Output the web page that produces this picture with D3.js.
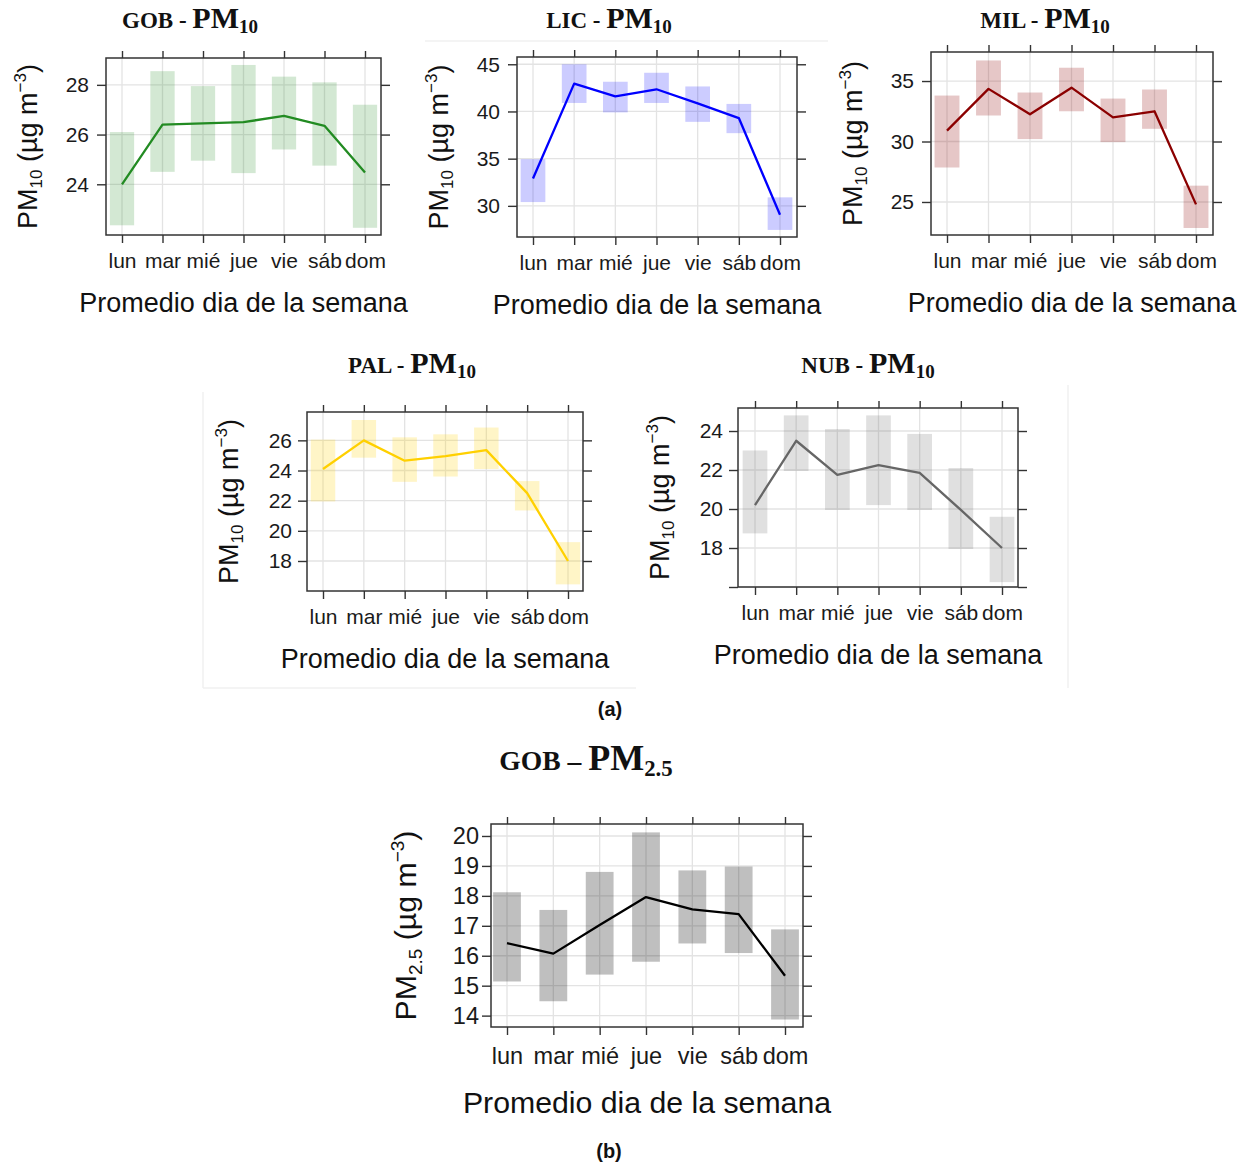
<!DOCTYPE html>
<html>
<head>
<meta charset="utf-8">
<script src="https://cdn.jsdelivr.net/npm/d3@7"></script>
<style>
  body { margin: 0; background: #fff; }
  text { font-family: "Liberation Sans", Arial, sans-serif; }
  text.ptitle { font-family: "Liberation Serif", "Times New Roman", serif; font-weight: bold; }
</style>
</head>
<body>
<svg id="chart" width="1251" height="1167"></svg>
<script>
var days = ["lun", "mar", "mié", "jue", "vie", "sáb", "dom"];

// GOB - PM10
var gobPm10Mean = [24.0, 26.4, 26.45, 26.5, 26.75, 26.35, 24.47];
var gobPm10Lower = [22.35, 24.5, 24.95, 24.45, 25.4, 24.75, 22.25];
var gobPm10Upper = [26.1, 28.55, 27.95, 28.8, 28.33, 28.1, 27.2];
var gobPm10Ticks = [24, 26, 28];

// LIC - PM10
var licPm10Mean = [32.9, 42.95, 41.6, 42.35, 40.85, 39.3, 29.05];
var licPm10Lower = [30.4, 40.9, 39.9, 40.9, 38.9, 37.7, 27.45];
var licPm10Upper = [34.95, 45.0, 43.15, 44.1, 42.65, 40.8, 30.9];
var licPm10Ticks = [30, 35, 40, 45];

// MIL - PM10
var milPm10Mean = [30.9, 34.35, 32.25, 34.45, 32.0, 32.5, 24.8];
var milPm10Lower = [27.85, 32.15, 30.2, 32.5, 29.95, 31.05, 22.85];
var milPm10Upper = [33.8, 36.7, 34.05, 36.1, 33.55, 34.3, 26.35];
var milPm10Ticks = [25, 30, 35];

// PAL - PM10
var palPm10Mean = [24.1, 26.0, 24.65, 24.95, 25.35, 22.5, 18.0];
var palPm10Lower = [21.95, 24.85, 23.25, 23.6, 24.1, 21.35, 16.45];
var palPm10Upper = [26.05, 27.35, 26.2, 26.4, 26.85, 23.3, 19.25];
var palPm10Ticks = [18, 20, 22, 24, 26];

// NUB - PM10
var nubPm10Mean = [20.2, 23.5, 21.75, 22.25, 21.85, 19.95, 18.0];
var nubPm10Lower = [18.75, 21.95, 19.95, 20.2, 19.95, 17.95, 16.25];
var nubPm10Upper = [23.0, 24.8, 24.1, 24.8, 23.85, 22.1, 19.6];
var nubPm10Ticks = [16, 18, 20, 22, 24];
var nubPm10TickLabels = [18, 20, 22, 24];

// GOB - PM2.5
var gobPm25Mean = [16.42, 16.07, 17.03, 17.96, 17.55, 17.39, 15.33];
var gobPm25Lower = [15.14, 14.48, 15.37, 15.8, 16.41, 16.09, 13.87];
var gobPm25Upper = [18.12, 17.53, 18.8, 20.12, 18.85, 18.98, 16.88];
var gobPm25Ticks = [14, 15, 16, 17, 18, 19, 20];

var svg = d3.select("#chart");

// faint edges of the pasted sub-figures
var edges = [[425, 41, 828, 41], [203, 392, 203, 688], [203, 688, 636, 688], [1068, 385, 1068, 688]];
svg.selectAll("line.edge").data(edges).enter().append("line")
  .attr("x1", function(d) { return d[0]; }).attr("y1", function(d) { return d[1]; })
  .attr("x2", function(d) { return d[2]; }).attr("y2", function(d) { return d[3]; })
  .attr("stroke", "#f0f0f0").attr("stroke-width", 1.5);

var panels = [
  { site: "GOB - ", sub: "10", mean: gobPm10Mean, lo: gobPm10Lower, hi: gobPm10Upper,
    ticks: gobPm10Ticks, labels: gobPm10Ticks, line: "#228B22", fill: "rgba(34,139,34,0.2)",
    box: [106, 58, 381, 235], xr: [122, 365], dom: [21.96, 29.08],
    tx: 190, ty: 28, s: 1, ts: 1, ytOff: 69, ylPad: 8 },
  { site: "LIC - ", sub: "10", mean: licPm10Mean, lo: licPm10Lower, hi: licPm10Upper,
    ticks: licPm10Ticks, labels: licPm10Ticks, line: "#0000FF", fill: "rgba(0,0,255,0.2)",
    box: [517, 57, 797, 237], xr: [533, 780], dom: [26.7, 45.77],
    tx: 609, ty: 28, s: 1, ts: 1, ytOff: 69, ylPad: 8 },
  { site: "MIL - ", sub: "10", mean: milPm10Mean, lo: milPm10Lower, hi: milPm10Upper,
    ticks: milPm10Ticks, labels: milPm10Ticks, line: "#8B0000", fill: "rgba(139,0,0,0.22)",
    box: [931, 52, 1213, 235], xr: [947, 1196], dom: [22.27, 37.4],
    tx: 1045, ty: 28, s: 1, ts: 1, ytOff: 69, ylPad: 8 },
  { site: "PAL - ", sub: "10", mean: palPm10Mean, lo: palPm10Lower, hi: palPm10Upper,
    ticks: palPm10Ticks, labels: palPm10Ticks, line: "#FFD000", fill: "rgba(255,210,0,0.22)",
    box: [307, 412, 583, 591], xr: [323, 568], dom: [16.01, 27.88],
    tx: 412, ty: 373, s: 1, ts: 1, ytOff: 69, ylPad: 6 },
  { site: "NUB - ", sub: "10", mean: nubPm10Mean, lo: nubPm10Lower, hi: nubPm10Upper,
    ticks: nubPm10Ticks, labels: nubPm10TickLabels, line: "#666666", fill: "rgba(102,102,102,0.2)",
    box: [738, 408, 1018, 587], xr: [755, 1002], dom: [16, 25.18],
    tx: 868, ty: 373, s: 1, ts: 1, ytOff: 69, ylPad: 6 },
  { site: "GOB – ", sub: "2.5", mean: gobPm25Mean, lo: gobPm25Lower, hi: gobPm25Upper,
    ticks: gobPm25Ticks, labels: gobPm25Ticks, line: "#000000", fill: "rgba(0,0,0,0.25)",
    box: [491, 824, 803, 1027], xr: [507, 785], dom: [13.62, 20.4],
    tx: 586, ty: 770, s: 1.12, ts: 1.2, ytOff: 75, ylPad: 3 }
];

function drawPanel(p) {
  var g = svg.append("g");
  var b = p.box;
  var x = d3.scalePoint().domain(days).range(p.xr);
  var y = d3.scaleLinear().domain(p.dom).range([b[3], b[1]]);
  var bw = x.step() * 0.6;
  var fs = 21 * p.s;

  // grid
  g.selectAll("line.vg").data(days).enter().append("line")
    .attr("x1", function(d) { return x(d); }).attr("x2", function(d) { return x(d); })
    .attr("y1", b[1]).attr("y2", b[3])
    .attr("stroke", "#e3e3e3").attr("stroke-width", 1.3);
  g.selectAll("line.hg").data(p.ticks).enter().append("line")
    .attr("x1", b[0]).attr("x2", b[2])
    .attr("y1", function(d) { return y(d); }).attr("y2", function(d) { return y(d); })
    .attr("stroke", "#e3e3e3").attr("stroke-width", 1.3);

  // interval bars
  g.selectAll("rect.ci").data(days).enter().append("rect")
    .attr("x", function(d) { return x(d) - bw / 2; })
    .attr("width", bw)
    .attr("y", function(d, i) { return y(p.hi[i]); })
    .attr("height", function(d, i) { return y(p.lo[i]) - y(p.hi[i]); })
    .attr("fill", p.fill);

  // mean line
  var line = d3.line()
    .x(function(d, i) { return x(days[i]); })
    .y(function(d) { return y(d); });
  g.append("path").datum(p.mean)
    .attr("d", line)
    .attr("fill", "none")
    .attr("stroke", p.line)
    .attr("stroke-width", 2.3)
    .attr("stroke-linejoin", "round");

  // frame
  g.append("rect")
    .attr("x", b[0]).attr("y", b[1])
    .attr("width", b[2] - b[0]).attr("height", b[3] - b[1])
    .attr("fill", "none").attr("stroke", "#333").attr("stroke-width", 1.5);

  function clean(ax) {
    ax.select(".domain").remove();
    ax.selectAll(".tick line").attr("stroke", "#333").attr("stroke-width", 1.4);
  }

  var bottom = g.append("g").attr("transform", "translate(0," + b[3] + ")")
    .call(d3.axisBottom(x).tickSize(8));
  clean(bottom);
  bottom.selectAll("text")
    .attr("y", 33 * p.s).attr("dy", null)
    .attr("font-size", fs).attr("fill", "#1a1a1a");

  var top = g.append("g").attr("transform", "translate(0," + b[1] + ")")
    .call(d3.axisTop(x).tickSize(7).tickFormat(""));
  clean(top);

  var left = g.append("g").attr("transform", "translate(" + b[0] + ",0)")
    .call(d3.axisLeft(y).tickValues(p.ticks).tickSize(9).tickPadding(p.ylPad)
      .tickFormat(function(d) { return p.labels.indexOf(d) >= 0 ? d : ""; }));
  clean(left);
  left.selectAll("text").attr("font-size", fs).attr("fill", "#1a1a1a");

  var right = g.append("g").attr("transform", "translate(" + b[2] + ",0)")
    .call(d3.axisRight(y).tickValues(p.ticks).tickSize(9).tickFormat(""));
  clean(right);

  // x axis title
  g.append("text")
    .attr("x", (b[0] + b[2]) / 2).attr("y", b[3] + 77 * p.s)
    .attr("text-anchor", "middle")
    .attr("font-size", 27 * p.s).attr("fill", "#111")
    .text("Promedio dia de la semana");

  // y axis title
  var yt = g.append("text")
    .attr("transform", "translate(" + (b[0] - p.ytOff) + "," + ((b[1] + b[3]) / 2) + ") rotate(-90)")
    .attr("text-anchor", "middle")
    .attr("font-size", 27 * p.s).attr("fill", "#111");
  yt.append("tspan").text("PM");
  yt.append("tspan").attr("font-size", 17 * p.s).attr("dy", 5 * p.s).text(p.sub);
  yt.append("tspan").attr("dy", -5 * p.s).text(" (µg m");
  yt.append("tspan").attr("font-size", 17 * p.s).attr("dy", -11 * p.s).text("−3");
  yt.append("tspan").attr("dy", 11 * p.s).text(")");

  // panel title
  var tt = g.append("text")
    .attr("class", "ptitle")
    .attr("x", p.tx).attr("y", p.ty)
    .attr("text-anchor", "middle")
    .attr("fill", "#111");
  tt.append("tspan").attr("font-size", 23 * p.ts).text(p.site);
  tt.append("tspan").attr("font-size", 30 * p.ts).text("PM");
  tt.append("tspan").attr("font-size", 19 * p.ts).attr("dy", 5 * p.ts).text(p.sub);
}

panels.forEach(drawPanel);

// sub-figure captions
svg.append("text").attr("x", 610).attr("y", 716).attr("text-anchor", "middle")
  .attr("font-size", 20).attr("font-weight", "bold").attr("fill", "#111").text("(a)");
svg.append("text").attr("x", 609).attr("y", 1158).attr("text-anchor", "middle")
  .attr("font-size", 20).attr("font-weight", "bold").attr("fill", "#111").text("(b)");
</script>
</body>
</html>
